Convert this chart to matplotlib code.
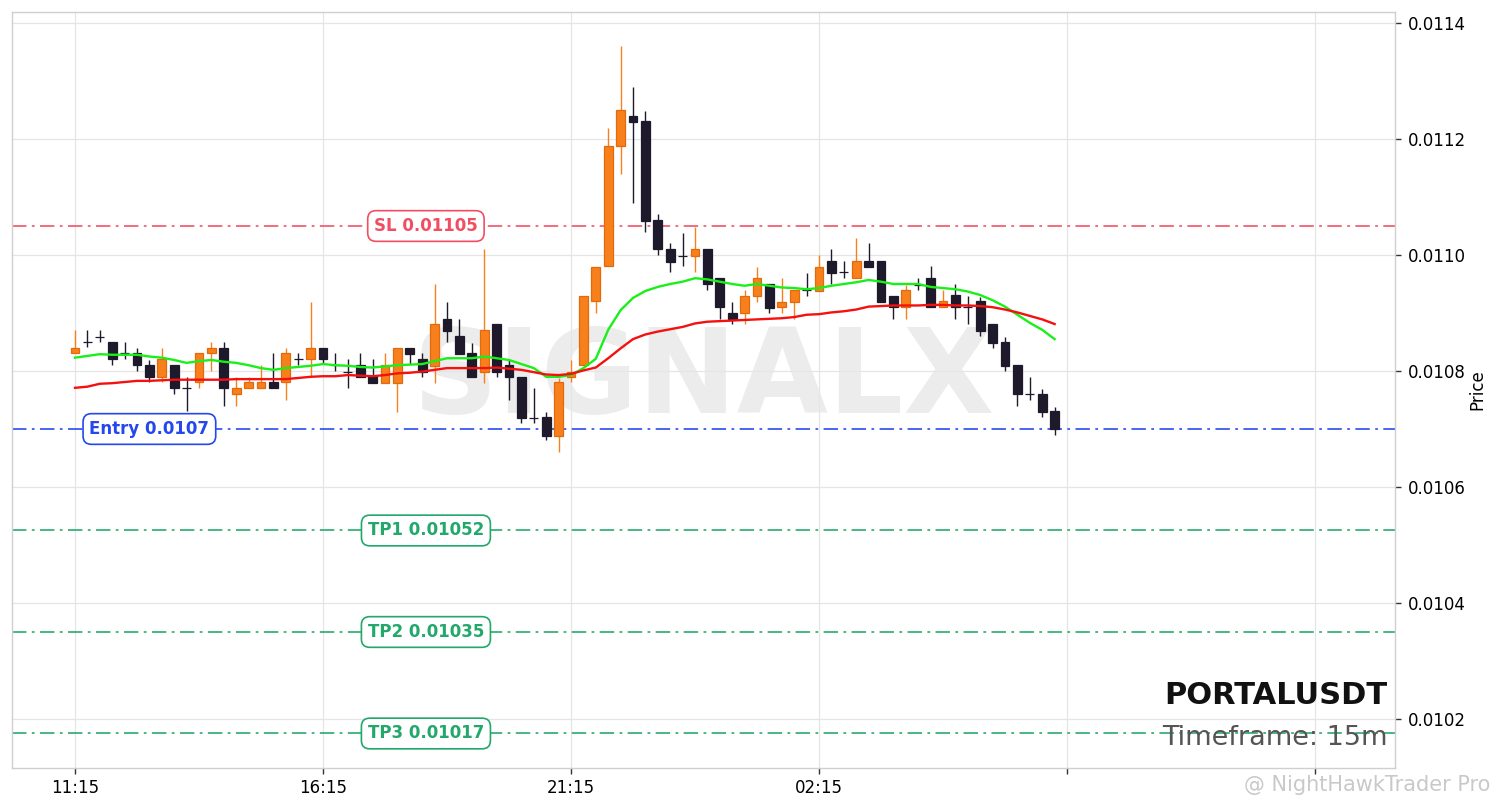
import numpy as np
import pandas as pd
import matplotlib
matplotlib.use("Agg")
import matplotlib.pyplot as plt

# 15m candles, PORTALUSDT
opens = [
    0.010831, 0.010850, 0.010859, 0.010850, 0.010831, 0.010831, 0.010810, 0.010790, 0.010810, 0.010771,
    0.010781, 0.010831, 0.010840, 0.010760, 0.010771, 0.010771, 0.010781, 0.010781, 0.010821, 0.010821,
    0.010840, 0.010810, 0.010798, 0.010810, 0.010791, 0.010779, 0.010779, 0.010840, 0.010821, 0.010809,
    0.010890, 0.010860, 0.010831, 0.010798, 0.010881, 0.010810, 0.010790, 0.010719, 0.010721, 0.010688,
    0.010790, 0.010810, 0.010921, 0.010981, 0.011188, 0.011240, 0.011231, 0.011060, 0.011010, 0.010998,
    0.010998, 0.011010, 0.010960, 0.010900, 0.010900, 0.010929, 0.010950, 0.010910, 0.010919, 0.010940,
    0.010938, 0.010990, 0.010971, 0.010960, 0.010990, 0.010990, 0.010929, 0.010910, 0.010948, 0.010960,
    0.010910, 0.010931, 0.010910, 0.010921, 0.010881, 0.010850, 0.010810, 0.010760, 0.010760, 0.010731,
]
highs = [
    0.010871, 0.010871, 0.010871, 0.010850, 0.010850, 0.010840, 0.010819, 0.010840, 0.010810, 0.010790,
    0.010831, 0.010850, 0.010850, 0.010790, 0.010790, 0.010810, 0.010831, 0.010840, 0.010831, 0.010919,
    0.010840, 0.010831, 0.010821, 0.010831, 0.010821, 0.010831, 0.010840, 0.010840, 0.010831, 0.010950,
    0.010919, 0.010890, 0.010848, 0.011010, 0.010881, 0.010819, 0.010790, 0.010771, 0.010729, 0.010788,
    0.010819, 0.010929, 0.010979, 0.011219, 0.011360, 0.011290, 0.011248, 0.011071, 0.011021, 0.011038,
    0.011048, 0.011010, 0.010960, 0.010919, 0.010940, 0.010979, 0.010950, 0.010960, 0.010940, 0.010969,
    0.011000, 0.011010, 0.010990, 0.011029, 0.011021, 0.010990, 0.010929, 0.010948, 0.010960, 0.010981,
    0.010940, 0.010950, 0.010929, 0.010928, 0.010881, 0.010859, 0.010810, 0.010790, 0.010769, 0.010738,
]
lows = [
    0.010831, 0.010841, 0.010850, 0.010810, 0.010821, 0.010800, 0.010781, 0.010781, 0.010760, 0.010731,
    0.010771, 0.010800, 0.010740, 0.010740, 0.010771, 0.010771, 0.010771, 0.010750, 0.010810, 0.010791,
    0.010812, 0.010800, 0.010771, 0.010790, 0.010779, 0.010779, 0.010729, 0.010812, 0.010790, 0.010779,
    0.010850, 0.010829, 0.010790, 0.010779, 0.010790, 0.010750, 0.010710, 0.010710, 0.010681, 0.010660,
    0.010781, 0.010810, 0.010900, 0.010981, 0.011140, 0.011090, 0.011040, 0.011000, 0.010971, 0.010981,
    0.010971, 0.010940, 0.010890, 0.010881, 0.010881, 0.010919, 0.010900, 0.010900, 0.010890, 0.010929,
    0.010938, 0.010950, 0.010960, 0.010960, 0.010979, 0.010919, 0.010890, 0.010890, 0.010940, 0.010910,
    0.010910, 0.010890, 0.010881, 0.010860, 0.010840, 0.010800, 0.010740, 0.010750, 0.010721, 0.010690,
]
closes = [
    0.010840, 0.010850, 0.010859, 0.010821, 0.010831, 0.010810, 0.010790, 0.010821, 0.010771, 0.010771,
    0.010831, 0.010840, 0.010771, 0.010771, 0.010781, 0.010781, 0.010771, 0.010831, 0.010821, 0.010840,
    0.010821, 0.010810, 0.010798, 0.010790, 0.010779, 0.010810, 0.010840, 0.010829, 0.010798, 0.010881,
    0.010869, 0.010829, 0.010790, 0.010871, 0.010798, 0.010790, 0.010719, 0.010719, 0.010688, 0.010781,
    0.010798, 0.010929, 0.010979, 0.011188, 0.011250, 0.011229, 0.011059, 0.011010, 0.010988, 0.010998,
    0.011010, 0.010950, 0.010910, 0.010890, 0.010929, 0.010960, 0.010909, 0.010919, 0.010940, 0.010940,
    0.010979, 0.010969, 0.010971, 0.010990, 0.010979, 0.010919, 0.010910, 0.010940, 0.010948, 0.010910,
    0.010921, 0.010910, 0.010910, 0.010869, 0.010848, 0.010809, 0.010760, 0.010760, 0.010729, 0.010700,
]

# moving average lines as drawn on the chart
ma_fast = [
    0.010823, 0.010826, 0.010829, 0.010828, 0.010828, 0.010828, 0.010825, 0.010823, 0.010819, 0.010814,
    0.010817, 0.010819, 0.010816, 0.010814, 0.010810, 0.010805, 0.010802, 0.010805, 0.010807, 0.010809,
    0.010812, 0.010810, 0.010809, 0.010807, 0.010806, 0.010808, 0.010810, 0.010811, 0.010812, 0.010817,
    0.010822, 0.010822, 0.010822, 0.010825, 0.010822, 0.010819, 0.010812, 0.010805, 0.010790, 0.010790,
    0.010793, 0.010805, 0.010821, 0.010871, 0.010905, 0.010926, 0.010938, 0.010945, 0.010950, 0.010954,
    0.010960, 0.010958, 0.010954, 0.010950, 0.010947, 0.010950, 0.010947, 0.010944, 0.010943, 0.010941,
    0.010943, 0.010947, 0.010950, 0.010953, 0.010957, 0.010954, 0.010950, 0.010950, 0.010950, 0.010945,
    0.010943, 0.010941, 0.010937, 0.010931, 0.010922, 0.010911, 0.010897, 0.010883, 0.010871, 0.010855,
]
ma_slow = [
    0.010771, 0.010773, 0.010778, 0.010779, 0.010781, 0.010783, 0.010783, 0.010784, 0.010785, 0.010785,
    0.010785, 0.010785, 0.010785, 0.010786, 0.010786, 0.010786, 0.010786, 0.010786, 0.010788, 0.010790,
    0.010791, 0.010791, 0.010793, 0.010792, 0.010791, 0.010793, 0.010796, 0.010797, 0.010799, 0.010802,
    0.010805, 0.010805, 0.010805, 0.010805, 0.010806, 0.010804, 0.010802, 0.010798, 0.010794, 0.010793,
    0.010795, 0.010801, 0.010806, 0.010822, 0.010839, 0.010855, 0.010863, 0.010868, 0.010872, 0.010876,
    0.010882, 0.010885, 0.010886, 0.010887, 0.010888, 0.010889, 0.010890, 0.010891, 0.010893, 0.010897,
    0.010898, 0.010901, 0.010903, 0.010906, 0.010911, 0.010912, 0.010913, 0.010913, 0.010913, 0.010914,
    0.010914, 0.010913, 0.010913, 0.010912, 0.010910, 0.010906, 0.010901, 0.010895, 0.010889, 0.010881,
]

# trade levels
level_names = ["SL 0.01105", "Entry 0.0107", "TP1 0.01052", "TP2 0.01035", "TP3 0.01017"]
level_prices = [0.01105, 0.0107, 0.010525, 0.01035, 0.010175]
level_colors = ["#f24e63", "#2448ee", "#22a86a", "#22a86a", "#22a86a"]
level_label_x = [28.3, 6.0, 28.3, 28.3, 28.3]

time_labels = ["11:15", "16:15", "21:15", "02:15", "", ""]
time_ticks = [0, 20, 40, 60, 80, 100]
price_ticks = [0.0102, 0.0104, 0.0106, 0.0108, 0.0110, 0.0112, 0.0114]

df = pd.DataFrame({"open": opens, "high": highs, "low": lows, "close": closes})
x = np.arange(len(df))
up = df["close"] > df["open"]

up_face = "#f8801c"
up_edge = "#e26a0c"
dn_face = "#1e1a2c"

fig = plt.figure(figsize=(15.01, 8.08), dpi=100)
ax = fig.add_axes([12 / 1501, 40 / 808, 1383 / 1501, 756 / 808])

# watermark
ax.text(0.5, 0.513, "SIGNALX", transform=ax.transAxes, ha="center", va="center",
        fontsize=85, fontweight="bold", color="#ececec", zorder=0)

# level lines and labels
for name, price, col, lx in zip(level_names, level_prices, level_colors, level_label_x):
    ax.axhline(price, color=col, lw=1.3, ls=(0, (8, 3, 1.5, 3)), zorder=2, alpha=0.9)
    ax.text(lx, price, name, ha="center", va="center", fontsize=12, fontweight="bold",
            color=col, zorder=6,
            bbox=dict(boxstyle="round,pad=0.38,rounding_size=0.5", fc="white", ec=col, lw=1.2))

# wicks
wick_cols = np.where(up, up_face, dn_face)
ax.vlines(x, df["low"], df["high"], colors=wick_cols, lw=1.0, zorder=3)

# bodies
body_h = df["close"] - df["open"]
ax.bar(x[up], body_h[up], bottom=df["open"][up], width=0.72,
       color=up_face, edgecolor=up_edge, lw=0.9, zorder=4)
ax.bar(x[~up], body_h[~up], bottom=df["open"][~up], width=0.72,
       color=dn_face, edgecolor=dn_face, lw=0.9, zorder=4)

# moving averages
ax.plot(x, ma_fast, color="#19f019", lw=1.7, zorder=5)
ax.plot(x, ma_slow, color="#f51010", lw=1.7, zorder=5)

ax.set_xlim(-5.08, 106.45)
ax.set_ylim(0.0101155, 0.011419)
ax.set_xticks(time_ticks)
ax.set_xticklabels(time_labels, fontsize=12)
ax.set_yticks(price_ticks)
ax.set_yticklabels([f"{p:.4f}" for p in price_ticks], fontsize=12)
ax.yaxis.tick_right()
ax.yaxis.set_label_position("right")
ax.set_ylabel("Price", fontsize=12, labelpad=2)
ax.tick_params(axis="x", length=4, width=1, color="#333333", pad=4)
ax.tick_params(axis="y", length=4, width=1, color="#333333", pad=5)
ax.grid(True, color="#e5e5e5", lw=0.9, zorder=0)
ax.set_axisbelow(True)
for s in ax.spines.values():
    s.set_color("#cfcfcf")
    s.set_linewidth(1)

# symbol / timeframe
ax.text(0.9945, 0.096, "PORTALUSDT", transform=ax.transAxes, ha="right", va="center",
        fontsize=22, fontweight="bold", color="#111111", zorder=7)
ax.text(0.9945, 0.04, "Timeframe: 15m", transform=ax.transAxes, ha="right", va="center",
        fontsize=19.5, color="#555555", zorder=7)

# repost watermark
fig.text(0.993, 0.028, "@ NightHawkTrader Pro", ha="right", va="center",
         fontsize=15, color="#c9c9c9")

fig.savefig("out.png", dpi=100)
